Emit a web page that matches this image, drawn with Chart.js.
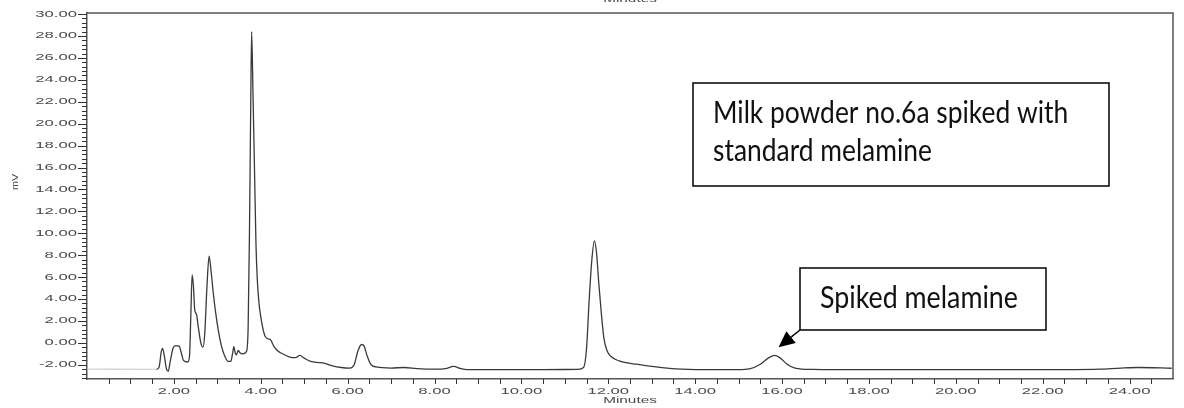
<!DOCTYPE html>
<html lang="en">
<head>
<meta charset="UTF-8" />
<title>Milk powder no.6a chromatogram</title>
<style>
  * {margin:0; padding:0; box-sizing:border-box;}
  body {background: #fff;}
  .wrap {width: 1184px; height: 408px; position: relative;}
</style>
</head>
<body>
<div class="wrap"><canvas id="chrom"></canvas></div>

<script src="https://cdn.jsdelivr.net/npm/chart.js"></script>
<script>
  // retention time (min) and detector signal (mV)
  const times = [
    0.00, 1.60, 1.66, 1.71, 1.74, 1.78, 1.83, 1.87, 1.92, 1.98, 2.04, 2.12, 2.17, 2.22, 2.32,
    2.36, 2.39, 2.42, 2.45, 2.48, 2.52, 2.56, 2.62, 2.67, 2.71, 2.76, 2.81, 2.86, 2.90, 2.96,
    3.02, 3.09, 3.16, 3.25, 3.31, 3.35, 3.38, 3.41, 3.44, 3.48, 3.52, 3.58, 3.67, 3.71, 3.74,
    3.77, 3.79, 3.82, 3.86, 3.89, 3.92, 3.96, 4.00, 4.05, 4.10, 4.18, 4.22, 4.30, 4.38, 4.50,
    4.67, 4.80, 4.90, 5.00, 5.15, 5.35, 5.45, 5.65, 5.85, 6.05, 6.15, 6.24, 6.32, 6.38, 6.45,
    6.54, 6.66, 7.00, 7.30, 7.60, 8.00, 8.25, 8.44, 8.60, 8.75, 9.50, 10.50, 11.30, 11.43, 11.50,
    11.56, 11.62, 11.68, 11.73, 11.78, 11.84, 11.90, 11.97, 12.05, 12.25, 12.65, 13.10, 13.55, 14.20, 15.00,
    15.25, 15.50, 15.70, 15.84, 15.98, 16.10, 16.30, 16.70, 18.00, 20.00, 22.00, 23.30, 23.80, 24.20, 24.97
  ];
  const signal = [
    -2.40, -2.42, -2.20, -0.80, -0.50, -1.20, -2.40, -2.60, -1.60, -0.50, -0.25, -0.30, -0.90, -1.60, -1.75,
    -1.20, 2.50, 6.20, 5.20, 3.00, 2.60, 1.50, 0.00, -0.40, 0.80, 5.00, 7.90, 6.40, 4.80, 2.80,
    1.20, -0.20, -1.10, -1.70, -1.70, -1.00, -0.35, -0.90, -1.10, -0.70, -0.90, -1.00, -0.80, 1.50, 10.0,
    22.0, 28.4, 23.0, 15.0, 9.00, 5.80, 3.60, 2.40, 1.30, 0.60, 0.35, 0.30, -0.30, -0.70, -1.00,
    -1.30, -1.35, -1.15, -1.40, -1.70, -1.80, -1.85, -2.10, -2.25, -2.30, -2.00, -0.70, -0.15, -0.30, -1.20,
    -2.00, -2.20, -2.30, -2.25, -2.35, -2.40, -2.35, -2.15, -2.35, -2.45, -2.45, -2.45, -2.42, -2.25, -0.50,
    3.90, 7.50, 9.30, 8.20, 5.50, 2.70, 0.40, -0.70, -1.20, -1.65, -1.95, -2.20, -2.38, -2.45, -2.45,
    -2.38, -1.95, -1.35, -1.15, -1.45, -1.90, -2.30, -2.42, -2.45, -2.45, -2.45, -2.40, -2.30, -2.25, -2.32
  ];

  const xLabels = [2, 4, 6, 8, 10, 12, 14, 16, 18, 20, 22, 24];
  const yLabels = [-2, 0, 2, 4, 6, 8, 10, 12, 14, 16, 18, 20, 22, 24, 26, 28, 30];
  const xMinorStep = 0.5;
  const yMinorStep = 0.4;
  const runStart = 1.6;   // trace before injection is only a faint baseline

  const axisColor = '#555';
  const labelColor = '#4a4a4a';
  const labelFont = '9px "Liberation Sans", Arial, sans-serif';
  const boxFont = 'Lato, "Open Sans", sans-serif';

  // old integrator fonts print wide and flat, so stretch them sideways
  function wideText(ctx, text, x, y, align, baseline, sx) {
    ctx.save();
    ctx.translate(x, y);
    ctx.scale(sx, 1);
    ctx.font = labelFont;
    ctx.fillStyle = labelColor;
    ctx.textAlign = align;
    ctx.textBaseline = baseline;
    ctx.fillText(text, 0, 0);
    ctx.restore();
  }

  // fit a text line to a given width
  function fitFont(ctx, text, width) {
    ctx.font = '100px ' + boxFont;
    return 100 * width / ctx.measureText(text).width;
  }

  // box text is a bit taller than Lato at the same width
  function tallText(ctx, text, x, y, size) {
    ctx.save();
    ctx.translate(x, y);
    ctx.scale(1, 1.14);
    ctx.font = size.toFixed(1) + 'px ' + boxFont;
    ctx.textAlign = 'left';
    ctx.textBaseline = 'alphabetic';
    ctx.fillStyle = '#111';
    ctx.fillText(text, 0, 0);
    ctx.restore();
  }

  const axesPlugin = {
    id: 'axesPlugin',
    afterDraw(chart) {
      const {ctx, chartArea: a, scales: {x, y}} = chart;
      ctx.save();
      ctx.strokeStyle = axisColor;
      ctx.lineWidth = 1.5;
      // top and right frame
      ctx.beginPath();
      ctx.moveTo(a.left, a.top); ctx.lineTo(a.right, a.top); ctx.lineTo(a.right, a.bottom);
      ctx.stroke();

      ctx.lineWidth = 1;
      ctx.strokeStyle = '#333';
      // y ticks, major every 2, minor every 0.4
      ctx.beginPath();
      for (let k = Math.ceil(y.min / yMinorStep); k * yMinorStep <= y.max + 1e-9; k++) {
        const v = +(k * yMinorStep).toFixed(2);
        const py = Math.round(y.getPixelForValue(v)) + 0.5;
        const major = yLabels.includes(v);
        ctx.moveTo(a.left - (major ? 9 : 5), py);
        ctx.lineTo(a.left, py);
      }
      // x ticks every 0.5 min
      for (let k = 1; k * xMinorStep < x.max; k++) {
        const px = Math.round(x.getPixelForValue(k * xMinorStep)) + 0.5;
        ctx.moveTo(px, a.bottom);
        ctx.lineTo(px, a.bottom + 5);
      }
      ctx.stroke();
      ctx.restore();

      yLabels.forEach(v => wideText(ctx, v.toFixed(2), a.left - 10, y.getPixelForValue(v), 'right', 'middle', 1.85));
      xLabels.forEach(v => wideText(ctx, v.toFixed(2), x.getPixelForValue(v), a.bottom + 8, 'center', 'top', 1.85));

      const mid = (a.left + a.right) / 2;
      wideText(ctx, 'Minutes', mid, 405, 'center', 'bottom', 1.7);
      wideText(ctx, 'Minutes', mid, 4, 'center', 'bottom', 1.7);

      ctx.save();
      ctx.translate(16, 182);
      ctx.rotate(-Math.PI / 2);
      wideText(ctx, 'mV', 0, 0, 'center', 'middle', 1.2);
      ctx.restore();
    }
  };

  const notesPlugin = {
    id: 'notesPlugin',
    afterDraw(chart) {
      const {ctx, scales: {x, y}} = chart;
      ctx.save();
      ctx.strokeStyle = '#000';
      ctx.lineWidth = 1.5;

      // sample description
      ctx.strokeRect(693, 83, 416, 103);
      const line1 = 'Milk powder no.6a spiked with';
      const s1 = fitFont(ctx, line1, 355);
      tallText(ctx, line1, 713, 123, s1);
      tallText(ctx, 'standard melamine', 713, 161, s1);

      // melamine callout
      ctx.strokeRect(800, 268, 246, 62);
      const line2 = 'Spiked melamine';
      tallText(ctx, line2, 820, 308, fitFont(ctx, line2, 198));

      // arrow down to the melamine peak
      const tx = x.getPixelForValue(15.92), ty = y.getPixelForValue(-0.4);
      const fx = 800, fy = 330;
      const ang = Math.atan2(ty - fy, tx - fx);
      const head = 16, half = 7.5;
      const bx = tx - head * Math.cos(ang), by = ty - head * Math.sin(ang);
      ctx.beginPath();
      ctx.moveTo(fx, fy); ctx.lineTo(bx, by);
      ctx.stroke();
      ctx.beginPath();
      ctx.moveTo(tx, ty);
      ctx.lineTo(bx + half * Math.sin(ang), by - half * Math.cos(ang));
      ctx.lineTo(bx - half * Math.sin(ang), by + half * Math.cos(ang));
      ctx.closePath();
      ctx.fillStyle = '#000';
      ctx.fill();
      ctx.restore();
    }
  };

  new Chart(document.getElementById('chrom'), {
    type: 'line',
    data: {
      datasets: [{
        data: times.map((t, i) => ({x: t, y: signal[i]})),
        borderColor: '#3a3a3a',
        borderWidth: 1.3,
        pointRadius: 0,
        cubicInterpolationMode: 'monotone',
        fill: false,
        segment: {
          borderColor: c => c.p1.parsed.x <= runStart ? '#d4d4d4' : undefined
        }
      }]
    },
    options: {
      responsive: true,
      maintainAspectRatio: false,
      animation: false,
      layout: {padding: {top: 13, right: 11, left: 0, bottom: 0}},
      plugins: {legend: {display: false}, tooltip: {enabled: false}},
      scales: {
        x: {
          type: 'linear', min: 0, max: 25,
          grid: {display: false},
          border: {display: true, color: axisColor, width: 1.5},
          ticks: {display: false},
          afterFit: s => { s.height = 29; }
        },
        y: {
          min: -3.3, max: 30.1,
          grid: {display: false},
          border: {display: true, color: axisColor, width: 1.5},
          ticks: {display: false},
          afterFit: s => { s.width = 87; }
        }
      }
    },
    plugins: [axesPlugin, notesPlugin]
  });
</script>
</body>
</html>
